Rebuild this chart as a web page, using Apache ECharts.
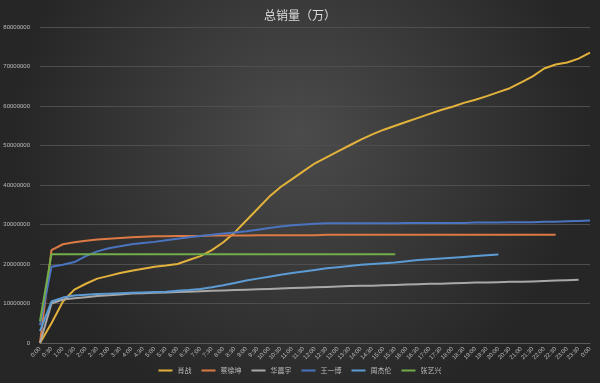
<!DOCTYPE html>
<html><head><meta charset="utf-8">
<script src="https://cdn.jsdelivr.net/npm/echarts@6/dist/echarts.min.js"></script>
<style>html,body{margin:0;padding:0;}#c{width:600px;height:383px;}</style>
</head><body><div id="c"></div>
<script>
var categories = ["0:00","0:30","1:00","1:30","2:00","2:30","3:00","3:30","4:00","4:30","5:00","5:30","6:00","6:30","7:00","7:30","8:00","8:30","9:00","9:30","10:00","10:30","11:00","11:30","12:00","12:30","13:00","13:30","14:00","14:30","15:00","15:30","16:00","16:30","17:00","17:30","18:00","18:30","19:00","19:30","20:00","20:30","21:00","21:30","22:00","22:30","23:00","23:30","0:00"];
var seriesNames = ["肖战","蔡徐坤","华晨宇","王一博","周杰伦","张艺兴"];
var xiaoZhan = [0,5000000,10500000,13500000,15000000,16300000,17000000,17700000,18300000,18800000,19300000,19600000,20000000,21000000,22000000,23500000,25500000,28000000,31000000,34000000,37000000,39500000,41500000,43500000,45500000,47000000,48500000,50000000,51500000,52800000,54000000,55000000,56000000,57000000,58000000,59000000,59800000,60800000,61600000,62500000,63500000,64500000,66000000,67500000,69500000,70500000,71000000,72000000,73500000];
var caiXuKun = [0,23500000,25000000,25500000,25900000,26200000,26400000,26600000,26800000,26900000,27000000,27000000,27100000,27100000,27100000,27200000,27200000,27200000,27200000,27300000,27300000,27300000,27300000,27300000,27300000,27400000,27400000,27400000,27400000,27400000,27400000,27400000,27400000,27400000,27400000,27400000,27400000,27400000,27400000,27400000,27400000,27400000,27400000,27400000,27400000,27400000];
var huaChenYu = [0,10000000,11000000,11300000,11600000,11900000,12100000,12300000,12500000,12600000,12700000,12800000,12900000,13000000,13100000,13200000,13300000,13400000,13500000,13600000,13700000,13800000,13900000,14000000,14100000,14200000,14300000,14400000,14500000,14500000,14600000,14700000,14800000,14900000,15000000,15000000,15100000,15200000,15300000,15300000,15400000,15500000,15500000,15600000,15700000,15800000,15900000,16000000];
var wangYiBo = [4500000,19300000,19800000,20500000,22000000,23200000,24000000,24500000,25000000,25300000,25600000,26000000,26400000,26800000,27100000,27400000,27700000,28000000,28300000,28700000,29100000,29500000,29800000,30000000,30200000,30300000,30300000,30300000,30300000,30300000,30300000,30300000,30400000,30400000,30400000,30400000,30400000,30400000,30500000,30500000,30500000,30600000,30600000,30600000,30700000,30700000,30800000,30900000,31000000];
var zhouJieLun = [3000000,10500000,11500000,12000000,12200000,12400000,12500000,12600000,12700000,12800000,12900000,13000000,13200000,13400000,13700000,14100000,14600000,15200000,15800000,16300000,16800000,17300000,17700000,18100000,18500000,18900000,19200000,19500000,19800000,20000000,20200000,20400000,20700000,21000000,21200000,21400000,21600000,21800000,22000000,22200000,22400000];
var zhangYiXing = [5500000,22500000,22500000,22500000,22500000,22500000,22500000,22500000,22500000,22500000,22500000,22500000,22500000,22500000,22500000,22500000,22500000,22500000,22500000,22500000,22500000,22500000,22500000,22500000,22500000,22500000,22500000,22500000,22500000,22500000,22500000,22500000];
var yTicks = [0,10000000,20000000,30000000,40000000,50000000,60000000,70000000,80000000];
var colors = ["#e2b23c","#dc7a45","#a8a8a8","#4a74c0","#5c9bd3","#72ad4a"];

var chart = echarts.init(document.getElementById('c'));
var allData = [xiaoZhan, caiXuKun, huaChenYu, wangYiBo, zhouJieLun, zhangYiXing];
chart.setOption({
  animation: false,
  backgroundColor: {type:'radial', x:0.5, y:0.35, r:0.75, colorStops:[{offset:0,color:'#4b4b4b'},{offset:1,color:'#262626'}]},
  color: colors,
  title: {text:'总销量（万）', left:'center', top:4, textStyle:{color:'#dcdcdc', fontSize:12, fontWeight:'normal', fontFamily:'Noto Sans CJK SC'}},
  legend: {bottom:4, left:'center', itemWidth:14, itemHeight:2, itemGap:10, icon:'rect',
    textStyle:{color:'#bbbbbb', fontSize:7, fontFamily:'Noto Sans CJK SC'}, data: seriesNames},
  grid: {left:40, right:10, top:27, bottom:40},
  xAxis: {type:'category', data:categories, boundaryGap:false,
    axisLine:{lineStyle:{color:'#5a5a5a'}}, axisTick:{show:false},
    axisLabel:{color:'#bdbdbd', fontSize:6, rotate:45, interval:0, margin:5}},
  yAxis: {type:'value', min:yTicks[0], max:yTicks[yTicks.length-1], interval:10000000,
    axisLine:{show:false}, axisTick:{show:false},
    splitLine:{lineStyle:{color:'#4e4e4e', width:1}},
    axisLabel:{color:'#bdbdbd', fontSize:6, margin:10, formatter:function(v){return String(v);}}},
  series: seriesNames.map(function(n,i){return {name:n, type:'line', data:allData[i], showSymbol:false, symbol:'none', lineStyle:{width:2}};})
});
</script></body></html>
